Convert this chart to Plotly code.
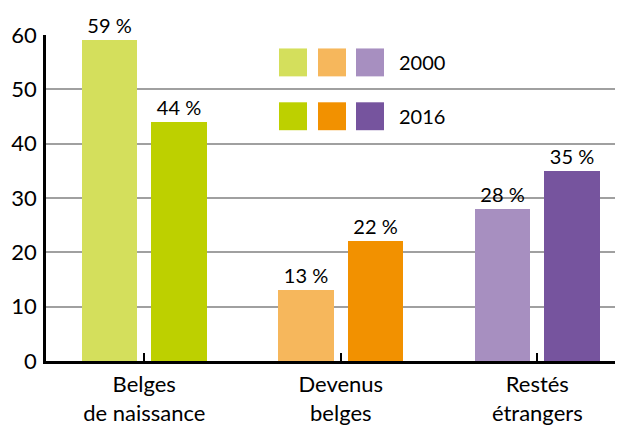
import plotly.graph_objects as go

categories = ["Belges<br>de naissance", "Devenus<br>belges", "Restés<br>étrangers"]
values_2000 = [59, 13, 28]
values_2016 = [44, 22, 35]
colors_2000 = ["#D4DF5C", "#F6B75C", "#A78FC0"]
colors_2016 = ["#BDD000", "#F29100", "#76549E"]
years = ["2000", "2016"]
y_ticks = [0, 10, 20, 30, 40, 50, 60]

# The page body has an 8px margin; lay the figure out so the window shows it as intended.
OFF = 8
W, H = 623 - OFF, 426 - OFF
ML, MR, MT, MB = 46 - OFF, 0, 34.5 - OFF, 64.5
FONT = "Lato"

fig = go.Figure()
fig.add_trace(go.Bar(x=categories, y=values_2000, name=years[0],
                     marker=dict(color=colors_2000, line=dict(width=0)),
                     offset=-0.318, width=0.282,
                     text=[f"{v} %" for v in values_2000], textposition="outside",
                     textfont=dict(size=20, color="black", family=FONT),
                     cliponaxis=False, showlegend=False))
fig.add_trace(go.Bar(x=categories, y=values_2016, name=years[1],
                     marker=dict(color=colors_2016, line=dict(width=0)),
                     offset=0.036, width=0.282,
                     text=[f"{v} %" for v in values_2016], textposition="outside",
                     textfont=dict(size=20, color="black", family=FONT),
                     cliponaxis=False, showlegend=False))

pw = W - ML - MR
ph = H - MT - MB
def px(x):
    return (x - OFF - ML) / pw
def py(y):
    return (H - MB - (y - OFF)) / ph

shapes = []
annotations = []
sq_x = [279, 318, 356]
rows = [(48, colors_2000, years[0]), (102, colors_2016, years[1])]
for top, cols, label in rows:
    for x0, c in zip(sq_x, cols):
        shapes.append(dict(type="rect", xref="paper", yref="paper",
                           x0=px(x0), x1=px(x0 + 28), y0=py(top + 28), y1=py(top),
                           fillcolor=c, line=dict(width=0), layer="above"))
    annotations.append(dict(xref="paper", yref="paper", x=px(397), y=py(top + 14),
                            text=label, showarrow=False, xanchor="left", yanchor="middle",
                            font=dict(size=20, color="black", family=FONT)))

fig.update_layout(
    width=W, height=H,
    margin=dict(l=ML, r=MR, t=MT, b=MB, pad=0, autoexpand=False),
    paper_bgcolor="white", plot_bgcolor="white",
    font=dict(family=FONT, size=20, color="black"),
    shapes=shapes, annotations=annotations,
    xaxis=dict(range=[-0.5, 2.436], showline=True, linecolor="black", linewidth=2.5,
               ticks="inside", ticklen=8, tickwidth=2, tickcolor="black",
               showgrid=False, tickfont=dict(size=22, family=FONT, color="black"),
               ticklabelstandoff=2, automargin=False),
    yaxis=dict(range=[0, 60], tickvals=y_ticks, showline=True, linecolor="black",
               linewidth=2.5, showgrid=True, gridcolor="#A0A0A0", gridwidth=2,
               zeroline=False, ticks="", tickfont=dict(size=22, family=FONT, color="black"),
               ticklabelstandoff=2, automargin=False),
    bargap=0, barmode="overlay",
)

fig.write_html("out.html")
